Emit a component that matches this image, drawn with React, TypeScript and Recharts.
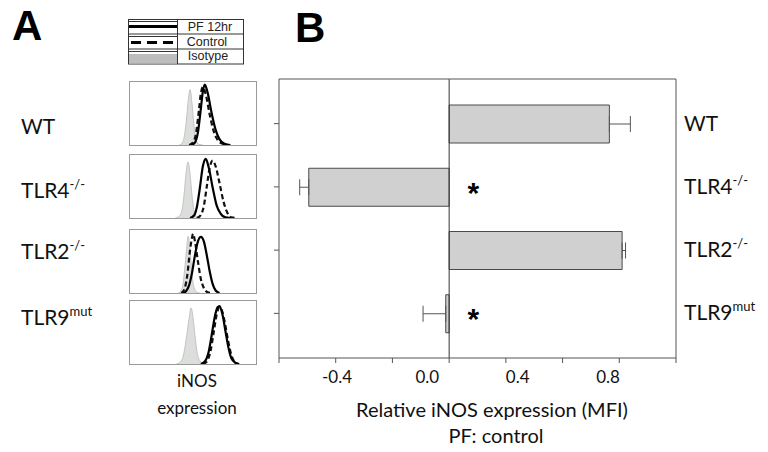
import React from 'react';
import {
  BarChart, Bar, XAxis, YAxis, ErrorBar, ReferenceLine, ReferenceDot,
  ComposedChart, Line, Area,
} from 'recharts';

// ---------- Panel B data ----------
const genotypes = ['WT', 'TLR4', 'TLR2', 'TLR9'];
const superscripts = ['', '-/-', '-/-', 'mut'];
const relativeMFI = [0.565, -0.495, 0.61, -0.012];
const errLow = [0, 0.032, 0, 0.08];
const errHigh = [0.074, 0, 0.012, 0];
const significantGroups = ['TLR4', 'TLR9'];
const asteriskX = 0.085;
const xTicks = [-0.6, -0.4, -0.2, 0, 0.2, 0.4, 0.6, 0.8];
const xTickLabels = [-0.4, 0, 0.4, 0.8];
const labelAxisDomain = [-0.657, 1.101];

// ---------- Panel A data (histograms, x = fluorescence channel, y = % of max) ----------
const wtIsotype = [[50,0],[53,3],[55,12],[57,35],[59,68],[61,88],[63,66],[65,30],[67,9],[70,1],[74,0]];
const wtControl = [[60,0],[64,4],[67,18],[70,55],[72,82],[74,92],[77,80],[81,48],[85,22],[89,8],[94,2],[100,0]];
const wtPF = [[62,0],[66,4],[69,20],[72,58],[74,85],[76,96],[79,82],[83,50],[87,24],[91,9],[96,2],[102,0]];

const tlr4Isotype = [[46,0],[50,3],[53,14],[55,38],[57,72],[59,89],[61,70],[63,36],[65,12],[68,2],[72,0]];
const tlr4Control = [[68,0],[72,5],[75,19],[78,50],[81,80],[84,91],[87,82],[91,55],[95,26],[99,8],[103,1],[108,0]];
const tlr4PF = [[61,0],[65,4],[68,18],[71,48],[74,82],[77,94],[80,80],[84,48],[88,20],[92,7],[97,1],[102,0]];

const tlr2Isotype = [[49,0],[52,4],[54,16],[56,45],[58,78],[59,90],[61,68],[63,30],[65,9],[68,1],[71,0]];
const tlr2Control = [[52,0],[55,5],[58,26],[61,68],[63,88],[64,94],[66,82],[69,50],[72,22],[75,8],[79,1],[83,0]];
const tlr2PF = [[54,0],[57,3],[60,12],[63,32],[66,60],[69,82],[72,89],[75,82],[78,60],[81,34],[84,14],[87,4],[91,0]];

const tlr9Isotype = [[47,0],[51,3],[54,12],[57,38],[60,72],[62,89],[64,74],[66,45],[68,20],[71,5],[75,0]];
const tlr9Control = [[74,0],[78,4],[82,22],[85,50],[88,78],[91,90],[94,82],[97,60],[100,34],[103,14],[106,4],[110,0]];
const tlr9PF = [[72,0],[76,4],[80,20],[83,46],[86,74],[89,90],[91,92],[94,78],[97,52],[100,26],[103,9],[107,2],[111,0]];

const toPts = (arr: number[][]) => arr.map(([x, y]) => ({ x, y }));

const barData = genotypes.map((g, i) => ({
  name: g,
  value: relativeMFI[i],
  err: [errLow[i], errHigh[i]],
}));

const CALIBRI = 'Lato, "Open Sans", sans-serif';
const ARIAL = '"Liberation Sans", Arial, sans-serif';

const EmptyTick = () => <g />;

const RightTick = (props: any) => {
  const { x, y, payload } = props;
  const i = genotypes.indexOf(payload.value);
  const sup = superscripts[i];
  return (
    <text x={x} y={y + 7} fontFamily={CALIBRI} fontSize={21} fill="#111" textAnchor="start">
      {payload.value}
      {sup ? <tspan dy={-9} fontSize={13}>{sup}</tspan> : null}
    </text>
  );
};

const Asterisk = (props: any) => {
  const { cx, cy } = props;
  return (
    <text x={cx} y={cy + 16} textAnchor="middle" fontFamily={ARIAL} fontWeight="bold" fontSize={30} fill="#000">*</text>
  );
};

const Histogram = ({ top, iso, ctrl, pf }: any) => (
  <div style={{ position: 'absolute', left: 129, top, width: 128, height: 65 }}>
    <ComposedChart width={128} height={65} margin={{ top: 1, right: 1, bottom: 1, left: 1 }}>
      <XAxis type="number" dataKey="x" domain={[0, 128]} hide allowDataOverflow />
      <YAxis type="number" domain={[0, 100]} hide allowDataOverflow />
      <Area data={toPts(iso)} dataKey="y" type="monotone" fill="#dcdedc" fillOpacity={1} stroke="#c2c4c2" strokeWidth={1} isAnimationActive={false} />
      <Line data={toPts(ctrl)} dataKey="y" type="monotone" stroke="#111" strokeWidth={2.2} strokeDasharray="5 3" dot={false} isAnimationActive={false} />
      <Line data={toPts(pf)} dataKey="y" type="monotone" stroke="#000" strokeWidth={2.2} dot={false} isAnimationActive={false} />
    </ComposedChart>
    <div style={{ position: 'absolute', left: 0, top: 0, width: 128, height: 65, border: '1px solid #9a9a9a', boxSizing: 'border-box', pointerEvents: 'none' }} />
  </div>
);

const leftLabelBaselines = [134, 198, 259, 325];

export default function App() {
  return (
    <div style={{ position: 'absolute', left: 0, top: 0, width: 768, height: 452, background: '#fff' }}>
      <Histogram top={81} iso={wtIsotype} ctrl={wtControl} pf={wtPF} />
      <Histogram top={154} iso={tlr4Isotype} ctrl={tlr4Control} pf={tlr4PF} />
      <Histogram top={229} iso={tlr2Isotype} ctrl={tlr2Control} pf={tlr2PF} />
      <Histogram top={300} iso={tlr9Isotype} ctrl={tlr9Control} pf={tlr9PF} />

      <div style={{ position: 'absolute', left: 0, top: 0 }}>
        <BarChart width={768} height={452} layout="vertical" data={barData} margin={{ top: 78, right: 0, bottom: 49, left: 269 }}>
          <XAxis xAxisId="b_labels" type="number" domain={labelAxisDomain} ticks={xTickLabels} tickFormatter={(v: number) => v.toFixed(1)} axisLine={false} tickLine={false} tickSize={0} tickMargin={8} height={40} tick={{ fontFamily: CALIBRI, fontSize: 17, fill: '#111' }} allowDataOverflow />
          <XAxis xAxisId="a_main" type="number" domain={[-0.6, 0.8]} ticks={xTicks} tickSize={5} tick={EmptyTick} height={5} stroke="#555" allowDataOverflow />
          <XAxis xAxisId="top" orientation="top" type="number" domain={[-0.6, 0.8]} tick={false} tickLine={false} height={1} stroke="#555" allowDataOverflow />
          <YAxis yAxisId="left" type="category" dataKey="name" width={10} tickSize={5} tick={EmptyTick} stroke="#555" padding={{ top: 13, bottom: 13 }} />
          <YAxis yAxisId="right" orientation="right" type="category" dataKey="name" width={92} tickSize={0} tickMargin={8} tickLine={false} axisLine={{ stroke: '#555' }} tick={RightTick} padding={{ top: 13, bottom: 13 }} />
          <Bar xAxisId="a_main" yAxisId="left" dataKey="value" fill="#d0d0d0" stroke="#4a4a4a" strokeWidth={1} barSize={38} isAnimationActive={false}>
            <ErrorBar dataKey="err" direction="x" width={8} stroke="#555" strokeWidth={1} />
          </Bar>
          <ReferenceLine xAxisId="a_main" yAxisId="left" x={0} stroke="#333" strokeWidth={1} />
          {significantGroups.map((g) => (
            <ReferenceDot key={g} xAxisId="a_main" yAxisId="left" x={asteriskX} y={g} r={0} shape={Asterisk} />
          ))}
        </BarChart>
      </div>

      <svg width={768} height={452} style={{ position: 'absolute', left: 0, top: 0, pointerEvents: 'none' }}>
        <text x={12} y={40} fontFamily={ARIAL} fontWeight="bold" fontSize={42} fill="#000">A</text>
        <text x={295} y={42} fontFamily={ARIAL} fontWeight="bold" fontSize={42} fill="#000">B</text>

        {/* legend table */}
        <g>
          <rect x={128.5} y={19.5} width={115} height={44.5} fill="#fff" stroke="#333" />
          <line x1={128.5} x2={243.5} y1={34} y2={34} stroke="#333" />
          <line x1={128.5} x2={243.5} y1={49} y2={49} stroke="#333" />
          <line x1={177.5} x2={177.5} y1={19.5} y2={64} stroke="#333" />
          <line x1={129} x2={177} y1={21.5} y2={21.5} stroke="#333" />
          <line x1={129} x2={177} y1={26.5} y2={26.5} stroke="#000" strokeWidth={3} />
          <line x1={129} x2={177} y1={36.5} y2={36.5} stroke="#333" />
          <line x1={131} x2={177} y1={42.5} y2={42.5} stroke="#000" strokeWidth={3} strokeDasharray="10 6" />
          <line x1={129} x2={177} y1={51.5} y2={51.5} stroke="#333" />
          <rect x={129} y={54} width={48} height={9.5} fill="#bdbdbd" />
          <text x={210} y={31} textAnchor="middle" fontFamily={ARIAL} fontSize={12.5} fill="#222">PF 12hr</text>
          <text x={207} y={46} textAnchor="middle" fontFamily={ARIAL} fontSize={12.5} fill="#222">Control</text>
          <text x={208} y={60} textAnchor="middle" fontFamily={ARIAL} fontSize={12.5} fill="#222">Isotype</text>
        </g>

        {genotypes.map((g, i) => (
          <text key={g} x={21} y={leftLabelBaselines[i]} fontFamily={CALIBRI} fontSize={21} fill="#111">
            {g}
            {superscripts[i] ? <tspan dy={-9} fontSize={13}>{superscripts[i]}</tspan> : null}
          </text>
        ))}

        <text x={197} y={387} textAnchor="middle" fontFamily={CALIBRI} fontSize={17} fill="#111">iNOS</text>
        <text x={197} y={414} textAnchor="middle" fontFamily={CALIBRI} fontSize={17} fill="#111">expression</text>

        <text x={492} y={417} textAnchor="middle" fontFamily={CALIBRI} fontSize={20} fill="#111">Relative iNOS expression (MFI)</text>
        <text x={496} y={443} textAnchor="middle" fontFamily={CALIBRI} fontSize={20} fill="#111">PF: control</text>
      </svg>
    </div>
  );
}
